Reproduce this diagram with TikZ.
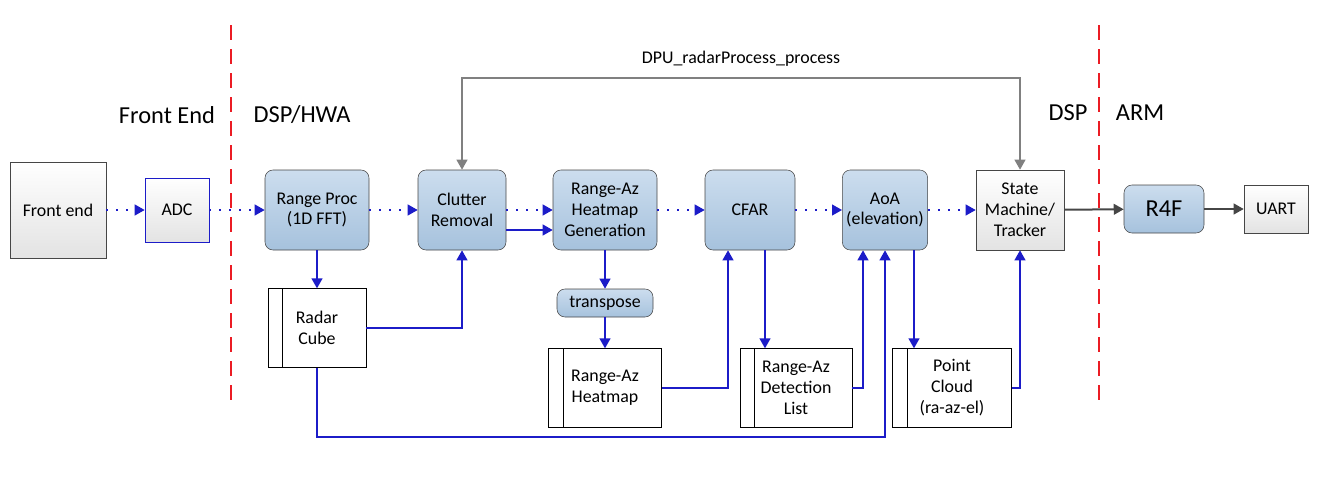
\documentclass[tikz,border=0pt]{standalone}
\usepackage{fontspec}
\setmainfont{Carlito}
\usetikzlibrary{arrows.meta,positioning,calc}
\definecolor{flowblue}{RGB}{28,28,200}
\definecolor{boxedge}{RGB}{70,70,70}
\definecolor{lineg}{RGB}{128,128,128}
\definecolor{linedk}{RGB}{70,70,70}
\definecolor{bluetop}{RGB}{204,221,238}
\definecolor{bluebot}{RGB}{166,194,221}
\definecolor{redline}{RGB}{235,28,36}

\begin{document}
\begin{tikzpicture}[x=0.75pt,y=-0.75pt,
  font=\fontsize{13.4}{15.7}\selectfont,
  proc/.style={draw=boxedge,rounded corners=6pt,top color=bluetop,bottom color=bluebot,align=center,inner sep=0pt,minimum height=60pt},
  plain/.style={draw=boxedge,top color=white,bottom color=black!11,align=center,inner sep=0pt},
  store/.style={draw=black,fill=white,align=center,inner sep=0pt,minimum height=59pt,
    path picture={\draw ([xshift=11pt]path picture bounding box.north west) -- ([xshift=11pt]path picture bounding box.south west);}},
  dotflow/.style={flowblue,line width=1.5pt,dash pattern=on 1.5pt off 6pt,-{Triangle[length=7.5pt,width=8pt]}},
  flow/.style={flowblue,line width=1.5pt,-{Triangle[length=7.5pt,width=8pt]}},
  gflow/.style={linedk,line width=1.5pt,-{Triangle[length=7.5pt,width=8pt]}},
  zone/.style={font=\fontsize{18.3}{21}\selectfont},
  border/.style={redline,line width=2.2pt,dash pattern=on 11pt off 7pt}]
\useasboundingbox (0,0) rectangle (1318,482);
\draw[border] (231,25) -- (231,400);
\draw[border] (1099,25) -- (1099,400);
\node[zone] (lfront) at (167,115) {Front End};
\node[zone] (ldsphwa) at (302,115) {DSP/HWA};
\node[zone] (ldsp) at (1068,113) {DSP};
\node[zone] (larm) at (1140,113) {ARM};
\node[plain,minimum width=72pt,minimum height=72pt] (fe) at (58,210) {Front end};
\node[plain,draw=flowblue,minimum width=48pt,minimum height=48pt] (adc) at (177,210) {ADC};
\node[proc,minimum width=78pt] (rproc) at (317,210) {Range Proc\\(1D FFT)};
\node[proc,minimum width=66pt] (clutter) at (462,210) {Clutter\\Removal};
\node[proc,minimum width=78pt] (hgen) at (605,210) {Range-Az\\Heatmap\\Generation};
\node[proc,minimum width=67.5pt] (cfar) at (750,210) {CFAR};
\node[proc,minimum width=64pt] (aoa) at (885,210) {AoA\\(elevation)};
\node[plain,minimum width=66pt,minimum height=60pt] (state) at (1020,210) {State\\Machine/\\Tracker};
\node[proc,minimum width=60pt,minimum height=36pt,font=\fontsize{18.3}{21}\selectfont] (r4f) at (1164,209) {R4F};
\node[plain,minimum width=48pt,minimum height=36pt] (uart) at (1276,209) {UART};
\node[proc,minimum width=72pt,minimum height=21pt] (transp) at (605,303) {transpose};
\node[store,minimum width=73.5pt] (cube) at (317,328) {Radar\\Cube};
\node[store,minimum width=85pt] (raheat) at (605,388) {Range-Az\\Heatmap};
\node[store,minimum width=84pt] (detlist) at (796,388) {Range-Az\\Detection\\List};
\node[store,minimum width=89pt] (pcloud) at (952,388) {Point\\Cloud\\(ra-az-el)};
\draw[dotflow] (fe) -- (adc);
\draw[dotflow] (adc) -- (rproc);
\draw[dotflow] (rproc) -- (clutter);
\draw[dotflow] (clutter) -- (hgen);
\draw[dotflow] (hgen) -- (cfar);
\draw[dotflow] (cfar) -- (aoa);
\draw[dotflow] (aoa) -- (state);
\draw[flow] (clutter.east |- 0,230) -- (hgen.west |- 0,230);
\draw[flow] (rproc) -- (cube);
\draw[flow] (cube.east) -| (clutter.south);
\draw[flow] (hgen) -- (transp);
\draw[flow] (transp) -- (raheat);
\draw[flow] (raheat.east) -| ([xshift=-16.5pt]cfar.south);
\draw[flow] ([xshift=11.25pt]cfar.south) -- ([xshift=11.25pt]cfar.south |- detlist.north);
\draw[flow] (detlist.east) -| ([xshift=-16.5pt]aoa.south);
\draw[flow] (cube.south) -- (cube.south |- 0,437) -| (aoa.south);
\draw[flow] ([xshift=21.75pt]aoa.south) -- ([xshift=21.75pt]aoa.south |- pcloud.north);
\draw[flow] (pcloud.east) -| (state.south);
\draw[lineg,line width=1.5pt,{Triangle[length=7.5pt,width=8pt]}-{Triangle[length=7.5pt,width=8pt]}] (clutter.north) -- (clutter.north |- 0,78) -| node[pos=0.25,above=5pt,text=black] (dpu) {DPU\_radarProcess\_process} (state.north);
\draw[gflow] (state) -- (r4f);
\draw[gflow] (r4f) -- (uart);
\end{tikzpicture}
\end{document}
